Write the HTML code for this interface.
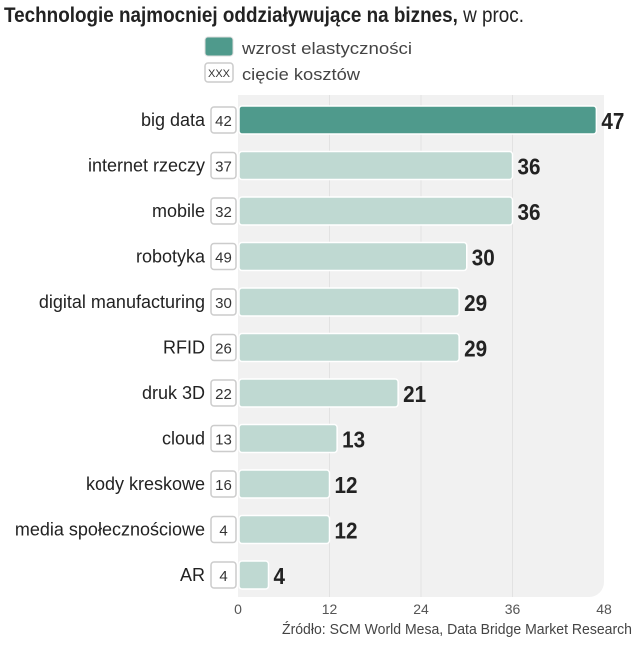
<!DOCTYPE html>
<html><head><meta charset="utf-8"><style>
body{margin:0;background:#fff;width:636px;height:640px;overflow:hidden;font-family:"Liberation Sans","DejaVu Sans",sans-serif;}
</style></head><body>
<svg width="636" height="640" xmlns="http://www.w3.org/2000/svg">
<text x="4" y="22" font-size="21" font-weight="bold" fill="#222" textLength="520" lengthAdjust="spacingAndGlyphs">Technologie najmocniej oddziaływujące na biznes,<tspan font-weight="normal"> w proc.</tspan></text>
<g>
<rect x="205" y="37" width="28" height="19" rx="3" fill="#4f9a8c" stroke="#ddd"/>
<text x="242" y="54" font-size="17" fill="#444" textLength="170" lengthAdjust="spacingAndGlyphs">wzrost elastyczności</text>
<rect x="205" y="63" width="28" height="19" rx="3" fill="#fff" stroke="#ccc" stroke-width="1.5"/>
<text x="219" y="77" font-size="11" fill="#333" text-anchor="middle">XXX</text>
<text x="242" y="80" font-size="17" fill="#444" textLength="118" lengthAdjust="spacingAndGlyphs">cięcie kosztów</text>
</g>
<path d="M238 95 H604 V582 a15 15 0 0 1 -15 15 H238 Z" fill="#f1f1f1"/>
<g id="grid"></g><g id="bars"></g>
<text x="282" y="634" font-size="15" fill="#444" textLength="350" lengthAdjust="spacingAndGlyphs">Źródło: SCM World Mesa, Data Bridge Market Research</text>
</svg>
<script>
const categories=["big data","internet rzeczy","mobile","robotyka","digital manufacturing","RFID","druk 3D","cloud","kody kreskowe","media społecznościowe","AR"];
const growthValues=[47,36,36,30,29,29,21,13,12,12,4];
const costValues=[42,37,32,49,30,26,22,13,16,4,4];
const ticks=[0,12,24,36,48];
const NS="http://www.w3.org/2000/svg";
const x=v=>238+v*(366/48);
const y=i=>120+i*45.5;
function mk(t,a,p){const e=document.createElementNS(NS,t);for(const k in a)e.setAttribute(k,a[k]);p.appendChild(e);return e;}
const grid=document.getElementById('grid'),bars=document.getElementById('bars');
ticks.forEach(t=>{
 if(t>0&&t<48){const l=mk('line',{x1:x(t),x2:x(t),y1:95,y2:597,stroke:'#e2e2e2'},grid);
 
 }
 const tx=mk('text',{x:x(t),y:614,'font-size':14,fill:'#555','text-anchor':'middle'},grid);tx.textContent=t;
 
 
});
categories.forEach((c,i)=>{
 const cy=y(i);
 const lb=mk('text',{x:205,y:cy+6,'font-size':18,fill:'#222','text-anchor':'end'},bars);lb.textContent=c;
 
 
 const bx=mk('rect',{x:211,y:cy-13,width:25,height:26,rx:3,fill:'#fff',stroke:'#ccc','stroke-width':1.5},bars);
 
 
 const bt=mk('text',{x:223.5,y:cy+6,'font-size':15,fill:'#333','text-anchor':'middle'},bars);bt.textContent=costValues[i];
 
 
 const b=mk('rect',{x:239,y:cy-14,width:x(growthValues[i])-239,height:28,rx:3,fill:i===0?'#4f9a8c':'#bfd9d2',stroke:'#fff','stroke-width':1.5},bars);
 
 
 const s=String(growthValues[i]);
 const v=mk('text',{x:x(growthValues[i])+5,y:cy+9,'font-size':23,'font-weight':'bold',fill:'#222',textLength:s.length*11.5,lengthAdjust:'spacingAndGlyphs'},bars);v.textContent=s;
 
 
});
</script>
</body></html>
